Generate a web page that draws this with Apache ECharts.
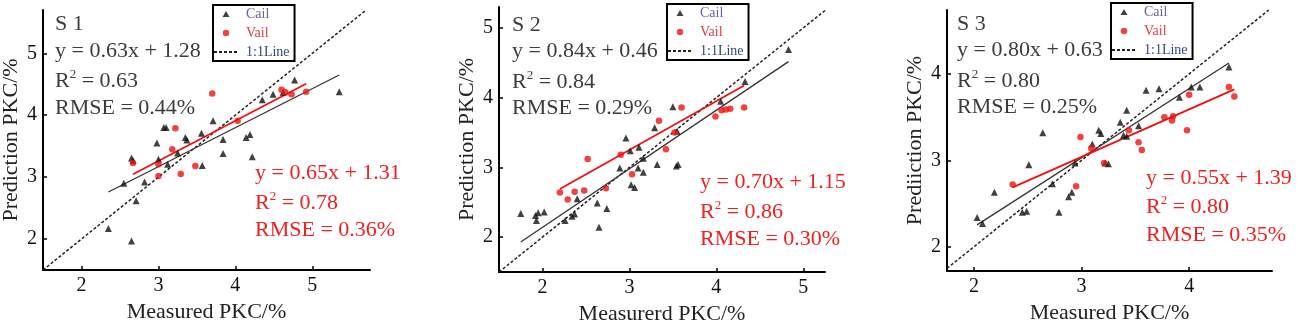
<!DOCTYPE html>
<html>
<head>
<meta charset="utf-8">
<script src="https://cdn.jsdelivr.net/npm/echarts@6/dist/echarts.min.js"></script>
<style>
html,body{margin:0;padding:0;background:#fff;}
#chart{width:1299px;height:322px;}
</style>
</head>
<body>
<div id="chart"></div>
<script>
// ---------- data ----------
const s1Cail = [[2.35,2.17],[2.65,1.97],[2.71,2.62],[2.55,2.90],[2.82,2.92],[2.65,3.31],[2.67,3.27],[3.00,3.29],[2.98,3.55],[3.07,3.80],[3.10,3.80],[3.12,3.21],[3.25,3.39],[3.35,3.64],[3.37,3.60],[3.56,3.71],[3.57,3.19],[3.71,3.91],[3.84,3.61],[3.84,3.38],[4.14,3.64],[4.19,3.69],[4.22,3.33],[4.35,4.25],[4.49,4.34],[4.62,4.37],[4.77,4.57],[5.35,4.38]];
const s1Vail = [[2.67,3.23],[3.00,3.02],[3.00,3.21],[3.18,3.45],[3.22,3.79],[3.29,3.05],[3.48,3.18],[3.70,4.35],[4.03,3.91],[4.60,4.41],[4.65,4.37],[4.73,4.34],[4.92,4.38]];
const s2Cail = [[1.75,2.34],[1.92,2.31],[1.95,2.35],[1.93,2.24],[2.02,2.36],[2.26,2.24],[2.34,2.30],[2.37,2.33],[2.40,2.55],[2.63,2.49],[2.65,2.14],[2.74,2.41],[2.89,2.99],[2.96,3.42],[3.01,3.24],[3.02,2.75],[3.06,2.71],[3.11,3.29],[3.10,2.99],[3.16,2.93],[3.16,3.13],[3.29,3.57],[3.32,3.04],[3.50,3.87],[3.54,3.02],[3.56,3.04],[3.55,3.52],[4.05,3.95],[4.33,4.23],[4.83,4.69]];
const s2Vail = [[2.20,2.64],[2.29,2.54],[2.37,2.65],[2.48,2.67],[2.52,3.12],[2.73,2.70],[2.90,3.18],[3.03,2.90],[3.34,3.67],[3.42,3.26],[3.52,3.50],[3.60,3.86],[3.99,3.73],[4.06,3.82],[4.11,3.83],[4.16,3.84],[4.32,3.86]];
const s3Cail = [[2.03,2.34],[2.08,2.27],[2.19,2.63],[2.45,2.40],[2.49,2.41],[2.51,2.95],[2.64,3.32],[2.73,2.73],[2.79,2.40],[2.88,2.58],[2.91,2.63],[2.94,2.97],[3.10,3.19],[3.16,3.35],[3.18,3.31],[3.22,2.97],[3.25,2.96],[3.36,3.44],[3.42,3.58],[3.39,3.29],[3.42,3.28],[3.53,3.40],[3.60,3.81],[3.72,3.83],[3.91,3.73],[4.02,3.85],[4.10,3.85],[4.37,4.08]];
const s3Vail = [[2.36,2.72],[2.95,2.70],[2.99,3.27],[3.09,3.14],[3.21,2.97],[3.44,3.35],[3.53,3.21],[3.56,3.12],[3.77,3.50],[3.84,3.46],[3.85,3.51],[3.98,3.35],[4.00,3.76],[4.37,3.85],[4.42,3.74]];

// fitted lines: [slope, intercept]
const s1CalFit = [0.63, 1.28], s1ValFit = [0.65, 1.31];
const s2CalFit = [0.84, 0.46], s2ValFit = [0.70, 1.15];
const s3CalFit = [0.80, 0.63], s3ValFit = [0.55, 1.39];

// statistics text: [equation, R2 value, RMSE]
const s1CalText = ['y = 0.63x + 1.28', '0.63', 'RMSE = 0.44%'];
const s1ValText = ['y = 0.65x + 1.31', '0.78', 'RMSE = 0.36%'];
const s2CalText = ['y = 0.84x + 0.46', '0.84', 'RMSE = 0.29%'];
const s2ValText = ['y = 0.70x + 1.15', '0.86', 'RMSE = 0.30%'];
const s3CalText = ['y = 0.80x + 0.63', '0.80', 'RMSE = 0.25%'];
const s3ValText = ['y = 0.55x + 1.39', '0.80', 'RMSE = 0.35%'];

// axis ranges and ticks
const s1XRange = [1.5, 5.75], s1YRange = [1.5, 5.7];
const s2XRange = [1.5, 5.25], s2YRange = [1.5, 5.3];
const s3XRange = [1.75, 4.77], s3YRange = [1.72, 4.74];
const s1Ticks = [2, 3, 4, 5];
const s2Ticks = [2, 3, 4, 5];
const s3Ticks = [2, 3, 4];
const panelTitles = ['S 1', 'S 2', 'S 3'];
const xNames = ['Measured PKC/%', 'Measurerd PKC/%', 'Measured PKC/%'];
const yNames = ['Prediction PKC/%', 'Prediction PKC/%', 'Prediiction PKC/%'];
const legendNames = ['Cail', 'Vail', '1:1Line'];

// ---------- layout ----------
const FONT = 'Liberation Serif';
const TRI_ICON = 'path://M0,0M24,7M12,0.5L15.5,6.5L8.5,6.5Z';
const DOT_ICON = 'path://M0,0M24,7M15.2,3.5A3.2,3.2,0,1,1,8.8,3.5A3.2,3.2,0,1,1,15.2,3.5Z';
const panels = [
  {grid:{left:43, top:10, width:327, height:260}, xr:s1XRange, yr:s1YRange, ticks:s1Ticks, cal:s1Cail, val:s1Vail, cf:s1CalFit, vf:s1ValFit, ct:s1CalText, vt:s1ValText, leg:[213,5], tx:55, ty:[24,51,81,108], rx:255, ry:[173,203,230]},
  {grid:{left:499, top:7, width:326, height:265}, xr:s2XRange, yr:s2YRange, ticks:s2Ticks, cal:s2Cail, val:s2Vail, cf:s2CalFit, vf:s2ValFit, ct:s2CalText, vt:s2ValText, leg:[667,4], tx:512, ty:[25,51,82,108], rx:700, ry:[182,212,239]},
  {grid:{left:947, top:10, width:325, height:261}, xr:s3XRange, yr:s3YRange, ticks:s3Ticks, cal:s3Cail, val:s3Vail, cf:s3CalFit, vf:s3ValFit, ct:s3CalText, vt:s3ValText, leg:[1111,3], tx:957, ty:[24,50,81,107], rx:1146, ry:[178,207,235]}
];

function fitLine(pts, f) {
  const xs = pts.map(p => p[0]);
  const a = Math.min(...xs), b = Math.max(...xs);
  return [[a, f[0]*a + f[1]], [b, f[0]*b + f[1]]];
}

const grid = [], xAxis = [], yAxis = [], series = [], legend = [], graphic = [];
panels.forEach((p, i) => {
  grid.push(Object.assign({outerBoundsMode:'none', containLabel:false}, p.grid));
  const axisCommon = {
    gridIndex: i, type: 'value',
    axisLine: {show: true, onZero: false, lineStyle: {color: '#000', width: 2}},
    axisTick: {show: true, inside: true, length: 4, customValues: p.ticks, lineStyle: {color: '#000', width: 1.5}},
    splitLine: {show: false},
    nameLocation: 'middle', nameMoveOverlap: false,
    nameTextStyle: {fontFamily: FONT, fontSize: 22, color: '#222'}
  };
  xAxis.push(Object.assign({}, axisCommon, {
    min: p.xr[0], max: p.xr[1], name: xNames[i], nameGap: 31,
    axisLabel: {customValues: p.ticks, fontFamily: FONT, fontSize: 20, color: '#111', margin: 6}
  }));
  yAxis.push(Object.assign({}, axisCommon, {
    min: p.yr[0], max: p.yr[1], name: yNames[i], nameGap: 21,
    axisLabel: {customValues: p.ticks, fontFamily: FONT, fontSize: 20, color: '#111', margin: 6}
  }));
  const lo = Math.max(p.xr[0], p.yr[0]), hi = Math.min(p.xr[1], p.yr[1]);
  series.push({
    name: '1:1Line', type: 'line', xAxisIndex: i, yAxisIndex: i, symbol: 'none', z: 1,
    data: [[lo, lo], [hi, hi]],
    itemStyle: {color: '#222'},
    lineStyle: {color: '#222', width: 1.5, type: [3, 2]}, silent: true
  });
  series.push({
    name: 'calFit' + i, type: 'line', xAxisIndex: i, yAxisIndex: i, symbol: 'none', z: 2,
    data: fitLine(p.cal, p.cf), lineStyle: {color: '#333', width: 1.3}
  });
  series.push({
    name: 'valFit' + i, type: 'line', xAxisIndex: i, yAxisIndex: i, symbol: 'none', z: 3,
    data: fitLine(p.val, p.vf), lineStyle: {color: '#f01010', width: 1.8}
  });
  series.push({
    name: 'Cail', type: 'scatter', xAxisIndex: i, yAxisIndex: i, symbol: 'triangle', symbolSize: 7, z: 4,
    data: p.cal, itemStyle: {color: '#111'}
  });
  series.push({
    name: 'Vail', type: 'scatter', xAxisIndex: i, yAxisIndex: i, symbol: 'circle', symbolSize: 6.5, z: 5,
    data: p.val, itemStyle: {color: '#f01010'}
  });
  legend.push({
    left: p.leg[0], top: p.leg[1], orient: 'vertical', align: 'left',
    itemWidth: 24, itemHeight: 7, itemGap: 5, padding: [2, 5, 2, 0],
    borderColor: '#000', borderWidth: 2, backgroundColor: '#fff', borderRadius: 0,
    selectedMode: false, z: 10,
    textStyle: {fontFamily: FONT, fontSize: 14, padding: [0, 0, 0, 3]},
    data: [
      {name: legendNames[0], icon: TRI_ICON, textStyle: {color: '#6b5f9e'}},
      {name: legendNames[1], icon: DOT_ICON, textStyle: {color: '#e53945'}},
      {name: legendNames[2], itemStyle: {color: 'rgba(0,0,0,0)', opacity: 0}, textStyle: {color: '#2f4a7a'}}
    ]
  });
  const blk = '#3c3c3c', red = '#f02020';
  const mk = (x, y, text, color, rich) => ({
    type: 'text', x: x, y: y, z: 20, silent: true,
    style: {text: text, fontFamily: FONT, fontSize: 22, fill: color, verticalAlign: 'middle', align: 'left',
      rich: rich ? {s: {fontFamily: FONT, fontSize: 13, fill: color, verticalAlign: 'top', lineHeight: 13},
                    n: {fontFamily: FONT, fontSize: 22, fill: color, lineHeight: 25}} : undefined}
  });
  graphic.push(mk(p.tx, p.ty[0], panelTitles[i], blk));
  graphic.push(mk(p.tx, p.ty[1], p.ct[0], blk));
  graphic.push(mk(p.tx, p.ty[2], '{n|R}{s|2}{n| = ' + p.ct[1] + '}', blk, true));
  graphic.push(mk(p.tx, p.ty[3], p.ct[2], blk));
  graphic.push(mk(p.rx, p.ry[0], p.vt[0], red));
  graphic.push(mk(p.rx, p.ry[1], '{n|R}{s|2}{n| = ' + p.vt[1] + '}', red, true));
  graphic.push(mk(p.rx, p.ry[2], p.vt[2], red));
});

const chart = echarts.init(document.getElementById('chart'), null, {renderer: 'canvas'});
chart.setOption({
  animation: false,
  backgroundColor: '#fff',
  grid, xAxis, yAxis, series, legend, graphic
});
</script>
</body>
</html>
